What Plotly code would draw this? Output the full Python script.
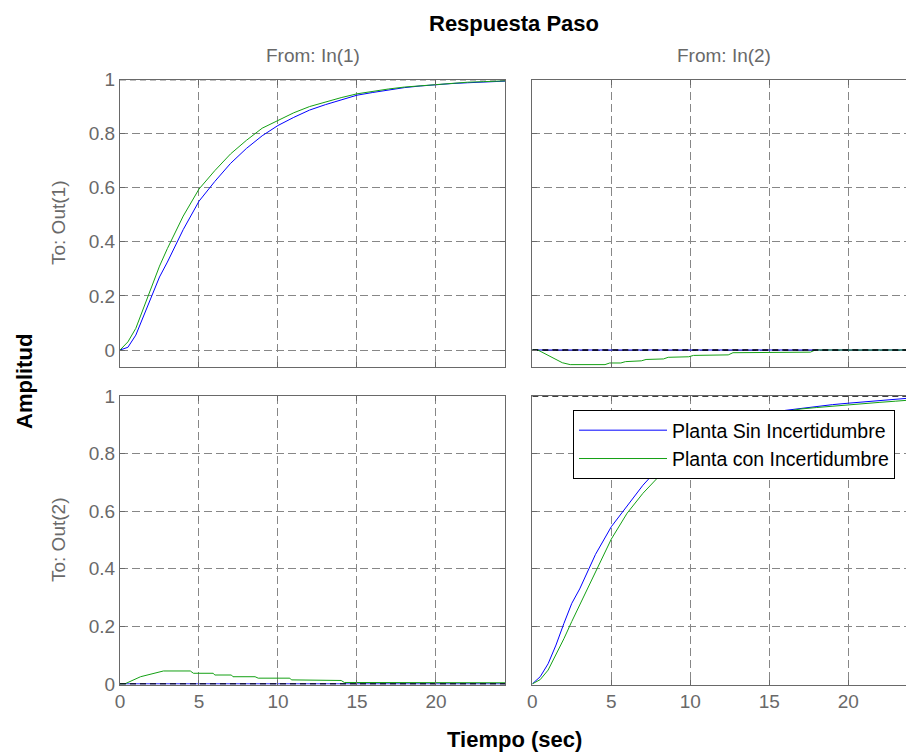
import plotly.graph_objects as go

# ---------------- data ----------------
t_diag = [0, 0.5, 1, 1.5, 2, 2.5, 3, 3.5, 4, 5, 6, 7, 8, 9, 10, 11, 12, 13, 14,
          15, 16, 17, 18, 19, 20, 21, 22, 23, 24.4]

# In(1) -> Out(1)
nom_11 = [0, 0.01, 0.055, 0.125, 0.2, 0.27, 0.325, 0.385, 0.445, 0.55, 0.623, 0.69,
          0.745, 0.792, 0.83, 0.86, 0.887, 0.907, 0.925, 0.942, 0.952, 0.962, 0.97,
          0.976, 0.981, 0.985, 0.988, 0.991, 0.994]
unc_11 = [0, 0.03, 0.08, 0.155, 0.235, 0.31, 0.375, 0.435, 0.495, 0.595, 0.663, 0.725,
          0.775, 0.82, 0.85, 0.877, 0.9, 0.917, 0.933, 0.947, 0.957, 0.965, 0.972,
          0.977, 0.982, 0.986, 0.99, 0.992, 0.995]

# In(2) -> Out(2)
nom_22 = [0, 0.025, 0.07, 0.135, 0.21, 0.28, 0.33, 0.39, 0.45, 0.546, 0.618, 0.69,
          0.75, 0.80, 0.835, 0.865, 0.89, 0.91, 0.927, 0.94, 0.95, 0.957, 0.963,
          0.97, 0.975, 0.98, 0.985, 0.989, 0.995]
unc_22 = [0, 0.015, 0.048, 0.1, 0.157, 0.217, 0.274, 0.333, 0.39, 0.503, 0.593, 0.662,
          0.72, 0.77, 0.81, 0.845, 0.875, 0.9, 0.92, 0.935, 0.946, 0.955, 0.96,
          0.965, 0.969, 0.974, 0.978, 0.982, 0.988]

# In(2) -> Out(1)  (coupling)
t_12 = [0, 0.35, 1.9, 2.4, 4.6, 4.9, 5.6, 5.9, 6.9, 7.2, 8.3, 8.6, 9.9, 10.2, 12.4,
        12.7, 17.6, 17.9, 24.4]
unc_12 = [0, 0, -0.047, -0.054, -0.054, -0.048, -0.048, -0.043, -0.040, -0.035,
          -0.033, -0.027, -0.025, -0.020, -0.018, -0.010, -0.008, 0, 0]

# In(1) -> Out(2)  (coupling)
t_21 = [0, 0.3, 1.3, 2.1, 2.75, 4.45, 4.65, 5.9, 6.0, 7.05, 7.15, 8.55, 8.75, 10.75,
        10.85, 14.0, 14.2, 24.4]
unc_21 = [0, 0, 0.025, 0.037, 0.045, 0.045, 0.037, 0.037, 0.031, 0.031, 0.025, 0.025,
          0.02, 0.02, 0.014, 0.012, 0.005, 0.004]

t_zero = [0, 24.4]
nom_12 = [0, 0]
nom_21 = [0, 0]

final_value = {"11": 1, "12": 0, "21": 0, "22": 1}

x_ticks = [0, 5, 10, 15, 20]
y_ticks = [0, 0.2, 0.4, 0.6, 0.8, 1]
y_ticktext = ["0", "0.2", "0.4", "0.6", "0.8", "1"]

name_nom = "Planta Sin Incertidumbre"
name_unc = "Planta con Incertidumbre"

# ---------------- styling ----------------
W, H = 906, 756
BLUE = "rgb(0,0,255)"
GREEN = "rgb(20,160,20)"
AX = "rgb(105,105,105)"
GRID = "rgb(135,135,135)"
FONT = "Liberation Sans, Arial, sans-serif"

fig = go.Figure()

panels = [
    ("11", "x", "y", t_diag, nom_11, t_diag, unc_11),
    ("12", "x2", "y2", t_zero, nom_12, t_12, unc_12),
    ("21", "x3", "y3", t_zero, nom_21, t_21, unc_21),
    ("22", "x4", "y4", t_diag, nom_22, t_diag, unc_22),
]

for key, xa, ya, tn, yn, tu, yu in panels:
    first = key == "11"
    fig.add_trace(go.Scatter(x=tn, y=yn, mode="lines", xaxis=xa, yaxis=ya,
                             line=dict(color=BLUE, width=1), name=name_nom,
                             legendgroup="nom", showlegend=first))
    fig.add_trace(go.Scatter(x=tu, y=yu, mode="lines", xaxis=xa, yaxis=ya,
                             line=dict(color=GREEN, width=1), name=name_unc,
                             legendgroup="unc", showlegend=first))
    fv = final_value[key]
    fig.add_trace(go.Scatter(x=[0, 24.4], y=[fv, fv], mode="lines", xaxis=xa, yaxis=ya,
                             line=dict(color="black", width=1.5, dash="6px,4px"),
                             showlegend=False, hoverinfo="skip"))

xd_left = [120 / W, 505 / W]
xd_right = [532.3 / W, 1.0]
yd_top = [1 - 366.7 / H, 1 - 79.5 / H]
yd_bot = [1 - 684.5 / H, 1 - 396 / H]

tickfont = dict(family=FONT, size=19, color=AX)


def xaxis(domain, rng, anchor, labels):
    return dict(domain=domain, range=rng, anchor=anchor, tickvals=x_ticks,
                showticklabels=labels, ticks="inside", ticklen=5, tickcolor=AX,
                showline=True, linecolor=AX, linewidth=1, mirror="ticks",
                showgrid=True, gridcolor=GRID, gridwidth=1, griddash="8px,4px",
                zeroline=False, tickfont=tickfont, fixedrange=True,
                automargin=False)


def yaxis(domain, rng, anchor, labels, mirror):
    return dict(domain=domain, range=rng, anchor=anchor, tickvals=y_ticks,
                ticktext=y_ticktext, showticklabels=labels, ticks="inside",
                ticklen=5, tickcolor=AX, showline=True, linecolor=AX, linewidth=1,
                mirror=mirror, showgrid=True, gridcolor=GRID, gridwidth=1,
                griddash="8px,4px", zeroline=False, tickfont=tickfont,
                fixedrange=True, automargin=False)


fig.update_layout(
    template="none",
    width=W, height=H,
    margin=dict(l=0, r=0, t=0, b=0, autoexpand=False),
    paper_bgcolor="white", plot_bgcolor="white",
    font=dict(family=FONT, color=AX),
    xaxis=xaxis(xd_left, [0, 24.37], "y", False),
    yaxis=yaxis(yd_top, [-0.0617, 1], "x", True, "ticks"),
    xaxis2=xaxis(xd_right, [0, 23.65], "y2", False),
    yaxis2=yaxis(yd_top, [-0.0617, 1], "x2", False, False),
    xaxis3=xaxis(xd_left, [0, 24.37], "y3", True),
    yaxis3=yaxis(yd_bot, [-0.002, 1], "x3", True, "ticks"),
    xaxis4=xaxis(xd_right, [0, 23.65], "y4", True),
    yaxis4=yaxis(yd_bot, [-0.002, 1], "x4", False, False),
    legend=dict(x=573 / W, y=1 - 410 / H, xanchor="left", yanchor="top",
                bgcolor="white", bordercolor="black", borderwidth=1,
                font=dict(family=FONT, size=19.5, color="black"),
                itemwidth=88, tracegroupgap=0),
    showlegend=True,
)

ann = [
    dict(text="<b>Respuesta Paso</b>", x=514 / W, y=1 - 23 / H,
         font=dict(family=FONT, size=22, color="black")),
    dict(text="From: In(1)", x=312.5 / W, y=1 - 55 / H,
         font=dict(family=FONT, size=19, color=AX)),
    dict(text="From: In(2)", x=724 / W, y=1 - 55 / H,
         font=dict(family=FONT, size=19, color=AX)),
    dict(text="To: Out(1)", x=58 / W, y=1 - 223 / H, textangle=-90,
         font=dict(family=FONT, size=19, color=AX)),
    dict(text="To: Out(2)", x=58 / W, y=1 - 540 / H, textangle=-90,
         font=dict(family=FONT, size=19, color=AX)),
    dict(text="<b>Amplitud</b>", x=24 / W, y=1 - 382 / H, textangle=-90,
         font=dict(family=FONT, size=22, color="black")),
    dict(text="<b>Tiempo (sec)</b>", x=514 / W, y=1 - 739 / H,
         font=dict(family=FONT, size=22, color="black")),
]
for a in ann:
    a.update(xref="paper", yref="paper", showarrow=False,
             xanchor="center", yanchor="middle")
fig.update_layout(annotations=ann)

fig.write_html("out.html", config={"displayModeBar": False},
               post_script="document.body.style.margin='0';"
                           "document.body.style.overflow='hidden';")
